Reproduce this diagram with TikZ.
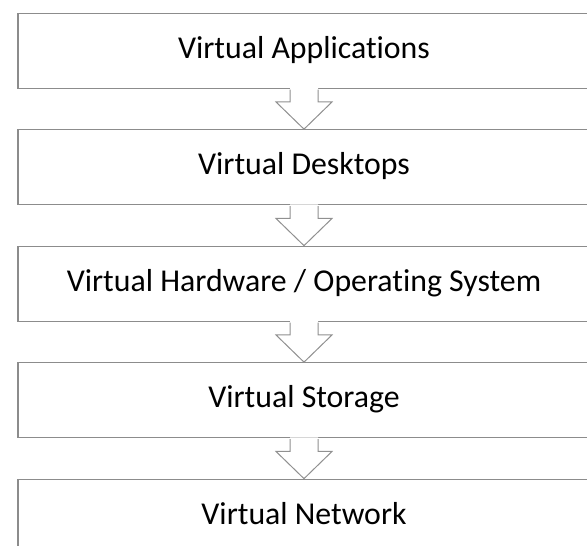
\documentclass[tikz,border=0pt]{standalone}
\usepackage{fontspec}
\setmainfont{Carlito}[Ligatures=NoCommon]
\usetikzlibrary{calc}
\definecolor{boxline}{HTML}{8C8C8C}
\definecolor{arrline}{HTML}{909090}
\begin{document}
\begin{tikzpicture}[x=1pt,y=1pt,
  layerbox/.style={draw=boxline, line width=1.3pt, fill=white, minimum width=572pt, minimum height=75pt, inner sep=0pt},
  layertext/.style={anchor=base, font=\fontsize{31.8}{38}\selectfont, text=black, inner sep=0pt},
  flowline/.style={draw=arrline, line width=1pt, line join=miter}]
\useasboundingbox (0,0) rectangle (587,-546);
\foreach \i/\t/\txt in {1/13.3/{Virtual Applications}, 2/129.8/{Virtual Desktops}, 3/246.3/{Virtual Hardware / Operating System}, 4/362.8/{Virtual Storage}, 5/479.3/{Virtual Network}}{
  \node[layerbox] (b\i) at (304,{-\t-37.5}) {};
  \node[layertext] (t\i) at (304,{-\t-44.7}) {\txt};
}
\foreach \a/\b in {b1/b2, b2/b3, b3/b4, b4/b5}{
  \fill[white] ($(\a.south)+(-14,1)$) -- ($(\a.south)+(-14,-13)$) -- ($(\a.south)+(-28,-13)$) -- (\b.north) -- ($(\a.south)+(28,-13)$) -- ($(\a.south)+(14,-13)$) -- ($(\a.south)+(14,1)$) -- cycle;
  \draw[flowline] ($(\a.south)+(-14,-0.6)$) -- ($(\a.south)+(-14,-13)$) -- ($(\a.south)+(-28,-13)$) -- (\b.north) -- ($(\a.south)+(28,-13)$) -- ($(\a.south)+(14,-13)$) -- ($(\a.south)+(14,-0.6)$);
}
\end{tikzpicture}
\end{document}
